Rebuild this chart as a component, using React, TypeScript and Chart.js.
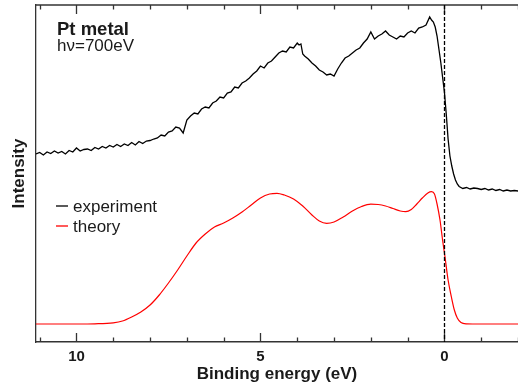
import { useEffect, useRef } from "react";
import { Chart, registerables } from "chart.js";

Chart.register(...registerables);

// Binding energy axis (eV), reversed
const xMin = -2;
const xMax = 11.1;
const majorTickValues = [10, 5, 0];
const yMin = 0;
const yMax = 337;

// Experimental spectrum (arbitrary intensity units)
const expEnergy = [
  11.1, 11.0, 10.9, 10.8, 10.7, 10.6, 10.5, 10.4, 10.3, 10.2, 10.1, 10.0,
  9.9, 9.8, 9.7, 9.6, 9.5, 9.4, 9.3, 9.2, 9.1, 9.0,
  8.9, 8.8, 8.7, 8.6, 8.5, 8.4, 8.3, 8.2, 8.1, 8.0,
  7.9, 7.8, 7.7, 7.6, 7.5, 7.4, 7.3, 7.2, 7.1, 7.0,
  6.9, 6.8, 6.7, 6.6, 6.5, 6.4, 6.3, 6.2, 6.1, 6.0,
  5.9, 5.8, 5.7, 5.6, 5.5, 5.4, 5.3, 5.2, 5.1, 5.0,
  4.9, 4.8, 4.7, 4.6, 4.5, 4.4, 4.3, 4.2, 4.1, 4.0, 3.95, 3.9, 3.85, 3.8,
  3.7, 3.6, 3.5, 3.4, 3.3, 3.2, 3.1, 3.0,
  2.9, 2.8, 2.7, 2.6, 2.5, 2.4, 2.3, 2.2, 2.1, 2.0,
  1.9, 1.8, 1.7, 1.6, 1.5, 1.4, 1.3, 1.2, 1.1, 1.0,
  0.9, 0.8, 0.7, 0.6, 0.5, 0.4, 0.35, 0.3, 0.25, 0.2, 0.15, 0.1, 0.05, 0.0,
  -0.05, -0.1, -0.15, -0.2, -0.25, -0.3, -0.35, -0.4, -0.5,
  -0.6, -0.7, -0.8, -0.9, -1.0, -1.1, -1.2, -1.3, -1.4, -1.5,
  -1.6, -1.7, -1.8, -1.9, -2.0,
];
const expIntensity = [
  188, 189.5, 187, 190, 188.5, 191, 189, 190.5, 188, 191.5, 190, 194,
  191, 192.5, 193, 191.5, 194.5, 193, 195.5, 194, 196.5, 195,
  197.5, 195.5, 198, 196.5, 199.5, 197, 200.5, 198.5, 201, 201.5,
  203, 204, 207, 206, 210, 211, 215, 214, 209, 222,
  226, 229, 228, 233, 235, 234, 239, 241, 245, 244,
  249, 250, 255, 254, 259, 261, 264, 268, 271, 276,
  274, 279, 281, 285, 289, 291, 290, 295, 294, 299, 297, 298, 288, 286,
  283, 279, 276, 272, 270, 267, 268, 266,
  273, 279, 284, 286, 289, 292, 294, 299, 303, 310,
  303, 306, 308, 311, 307, 305, 303, 306, 305, 309,
  311, 309, 314, 315, 317, 325, 322, 320, 315, 306, 293, 280, 265, 250,
  228, 203, 186, 176, 168, 162, 158, 155.5, 153.5,
  154.5, 153, 154, 153.5, 152.5, 153.5, 152, 153, 151.5, 152.5,
  151, 152, 151, 151.5, 151,
];

// Theoretical spectrum
const theoryEnergy = [
  11.1, 10.5, 10.0, 9.5, 9.0, 8.75, 8.5, 8.25, 8.0, 7.75, 7.5, 7.25, 7.0,
  6.75, 6.5, 6.25, 6.0, 5.75, 5.5, 5.25, 5.0, 4.75, 4.55, 4.35, 4.1, 3.85,
  3.6, 3.4, 3.2, 3.0, 2.75, 2.5, 2.25, 2.0, 1.8, 1.6, 1.4, 1.2, 1.05, 0.9,
  0.75, 0.6, 0.45, 0.35, 0.27, 0.2, 0.12, 0.05, -0.02, -0.1, -0.19, -0.27,
  -0.35, -0.45, -0.6, -1.0, -2.0,
];
const theoryIntensity = [
  18, 18, 18, 18.2, 19.2, 21, 25, 30, 37, 47, 59, 72, 86,
  99, 108, 115, 119, 124, 130, 137, 144, 148, 148.7, 147, 143, 136,
  127, 121, 118.7, 120, 125, 131, 135.5, 137.8, 137.5, 136, 133.5, 131, 130.3, 132.5,
  138, 144, 149, 150.3, 148, 138, 122, 102, 84, 62, 45, 32,
  24, 19.5, 18.2, 18, 18,
];

const seriesNames = ["experiment", "theory"];
const seriesColors = ["#000000", "#ff0000"];
const annotationTitle = "Pt metal";
const annotationSub = "h\u03bd=700eV";
const xAxisTitle = "Binding energy (eV)";
const yAxisTitle = "Intensity";

const FONT = "'Liberation Sans', Arial, Helvetica, sans-serif";
const TEXT = "#1a1a1a";
const AXIS = "#333333";

const decorPlugin = {
  id: "decor",
  afterDatasetsDraw(chart: any) {
    const { ctx, chartArea } = chart;
    const { left, right, top, bottom } = chartArea;
    const xs = chart.scales.x;
    ctx.save();
    // top frame line
    ctx.strokeStyle = AXIS;
    ctx.lineWidth = 1.3;
    ctx.beginPath();
    ctx.moveTo(left, top);
    ctx.lineTo(right, top);
    ctx.stroke();
    // inward ticks (bottom and top)
    xs.ticks.forEach((t: any) => {
      if (!Number.isInteger(t.value)) return;
      const px = Math.round(xs.getPixelForValue(t.value)) + 0.5;
      const len = majorTickValues.includes(t.value) ? 9 : 4.5;
      ctx.beginPath();
      ctx.moveTo(px, bottom);
      ctx.lineTo(px, bottom - len);
      ctx.moveTo(px, top);
      ctx.lineTo(px, top + len);
      ctx.stroke();
    });
    // dashed Fermi level line
    const x0 = Math.round(xs.getPixelForValue(0)) + 0.5;
    ctx.strokeStyle = "#000";
    ctx.lineWidth = 1.3;
    ctx.setLineDash([4, 2]);
    ctx.beginPath();
    ctx.moveTo(x0, top);
    ctx.lineTo(x0, bottom);
    ctx.stroke();
    ctx.setLineDash([]);

    // annotation
    ctx.fillStyle = TEXT;
    ctx.textAlign = "left";
    ctx.textBaseline = "alphabetic";
    ctx.font = `bold 18.5px ${FONT}`;
    ctx.fillText(annotationTitle, left + 21, 35);
    ctx.font = `17px ${FONT}`;
    ctx.fillText(annotationSub, left + 21, 50.5);

    // legend
    const legendBase = [211.5, 231.5];
    seriesNames.forEach((name, i) => {
      const by = legendBase[i];
      ctx.strokeStyle = seriesColors[i];
      ctx.lineWidth = 1.3;
      ctx.beginPath();
      ctx.moveTo(left + 20, by - 5.5);
      ctx.lineTo(left + 32, by - 5.5);
      ctx.stroke();
      ctx.fillStyle = TEXT;
      ctx.font = `17px ${FONT}`;
      ctx.fillText(name, left + 37, by);
    });
    ctx.restore();
  },
};

export default function App() {
  const canvasRef = useRef<HTMLCanvasElement | null>(null);

  useEffect(() => {
    const canvas = canvasRef.current;
    if (!canvas) return;
    const chart = new Chart(canvas, {
      type: "line",
      data: {
        datasets: [
          {
            label: seriesNames[0],
            data: expEnergy.map((e, i) => ({ x: e, y: expIntensity[i] })),
            borderColor: seriesColors[0],
            borderWidth: 1.3,
            pointRadius: 0,
            tension: 0,
          },
          {
            label: seriesNames[1],
            data: theoryEnergy.map((e, i) => ({ x: e, y: theoryIntensity[i] })),
            borderColor: seriesColors[1],
            borderWidth: 1.2,
            pointRadius: 0,
            cubicInterpolationMode: "monotone",
          },
        ],
      },
      options: {
        responsive: false,
        animation: false,
        devicePixelRatio: 1,
        layout: { padding: { top: 5, right: 0, left: 0, bottom: 0 } },
        plugins: {
          legend: { display: false },
          tooltip: { enabled: false },
        },
        scales: {
          x: {
            type: "linear",
            reverse: true,
            min: xMin,
            max: xMax,
            grid: { display: false, drawTicks: true, tickLength: 6 },
            border: { display: true, color: AXIS, width: 1.5 },
            ticks: {
              stepSize: 1,
              autoSkip: false,
              includeBounds: false,
              maxRotation: 0,
              padding: 0,
              color: TEXT,
              font: { family: FONT, size: 15, weight: "bold" },
              callback: (v: any) => (majorTickValues.includes(Number(v)) ? String(v) : ""),
            },
            title: {
              display: true,
              text: xAxisTitle,
              color: TEXT,
              font: { family: FONT, size: 17, weight: "bold" },
              padding: { top: 0, bottom: 6 },
            },
            afterFit: (s: any) => {
              s.height = 49;
              s.paddingLeft = 0;
              s.paddingRight = 0;
            },
          },
          y: {
            type: "linear",
            min: yMin,
            max: yMax,
            grid: { display: false, drawTicks: false },
            border: { display: true, color: AXIS, width: 1.3 },
            ticks: { display: false },
            title: {
              display: true,
              text: yAxisTitle,
              color: TEXT,
              font: { family: FONT, size: 17, weight: "bold" },
              padding: { top: 9, bottom: 0 },
            },
            afterFit: (s: any) => {
              s.width = 36;
            },
          },
        },
      },
      plugins: [decorPlugin],
    });
    return () => chart.destroy();
  }, []);

  return (
    <div style={{ position: "absolute", left: 0, top: 0, width: 518, height: 391, background: "#fff" }}>
      <canvas ref={canvasRef} width={518} height={391} style={{ display: "block" }} />
    </div>
  );
}
